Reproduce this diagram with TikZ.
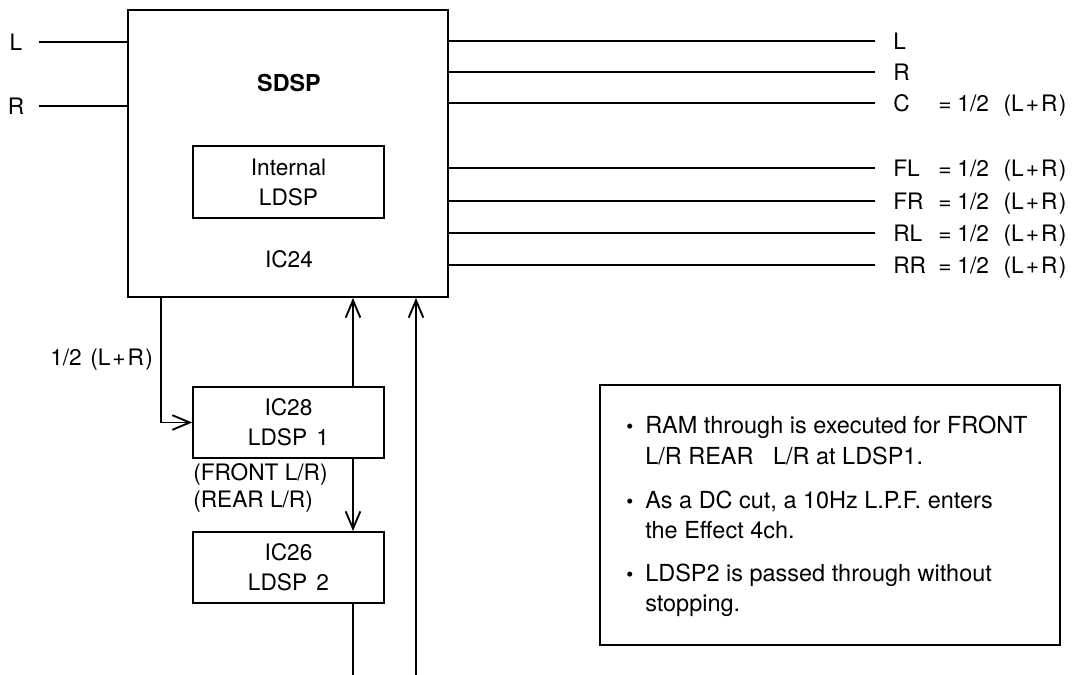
\documentclass[tikz,border=0pt]{standalone}
\usepackage{fontspec}
\setmainfont{TeX Gyre Heros}
\usetikzlibrary{arrows.meta}
\newcommand{\lpr}{(L\kern1.5pt+\kern1.5pt R\kern1pt)}
\begin{document}
\begin{tikzpicture}[x=0.75pt,y=-0.75pt,
  every node/.style={font=\fontsize{17}{22.5}\selectfont, inner sep=0pt},
  box/.style={draw, line width=1.4pt, inner sep=0pt, align=center},
  wire/.style={line width=1.4pt},
  arr/.style={wire, -{Straight Barb[length=13pt,width=11pt,line width=1.4pt]}},
  lbl/.style={anchor=base west},
  ntxt/.style={anchor=base west, font=\fontsize{17.6}{22.5}\selectfont},
  bul/.style={anchor=base west, font=\fontsize{15}{15}\selectfont}]
\useasboundingbox (0,0) rectangle (1079,675);

% main block
\node[box, minimum width=240pt, minimum height=215.25pt] (sdsp) at (288,153.5) {};
\node[anchor=base, font=\fontsize{17.5}{22.5}\selectfont\bfseries] (sdspt) at (289,91) {SDSP};
\node[anchor=base] (ic24) at (289,267) {IC24};
\node[box, minimum width=143.25pt, minimum height=54pt] (ildsp) at (288.5,182) {Internal\\LDSP};

% lower blocks
\node[box, minimum width=143.25pt, minimum height=53.25pt] (ic28) at (288.5,422.5) {IC28\\LDSP\hspace{7pt}1};
\node[box, minimum width=143.25pt, minimum height=53.25pt] (ic26) at (288.5,567.5) {IC26\\LDSP\hspace{7pt}2};

% inputs
\node[anchor=base] (inLt) at (16,50) {L};
\node[anchor=base] (inRt) at (16,114) {R};
\coordinate (inL) at (39,42);
\coordinate (inR) at (39,106);
\draw[wire] (inL) -- (inL -| sdsp.west);
\draw[wire] (inR) -- (inR -| sdsp.west);

% outputs
\foreach \n/\y/\t in {oL/41/L, oR/72/R, oC/103/C, oFL/168/FL, oFR/201/FR, oRL/233/RL, oRR/265/RR}{
  \coordinate (\n) at (875,\y);
  \draw[wire] (\n -| sdsp.east) -- (\n);
  \node[lbl] (\n-t) at (893,\y+8) {\t};
}
\foreach \n/\y in {oC/103, oFL/168, oFR/201, oRL/233, oRR/265}{
  \node[lbl] (\n-e) at (938,\y+8) {=\hspace{4.5pt}1/2\hspace{11pt}\lpr};
}

% feed to LDSP1
\coordinate (tap) at (161,0);
\draw[arr] (sdsp.south -| tap) |- (ic28.west);
\node[lbl] (half) at (50,365) {1/2\hspace{6.4pt}\lpr};

\node[lbl] (front) at (193,480) {(FRONT L/R)};
\node[lbl] (rear) at (193,507) {(REAR L/R)};

% vertical connectors
\coordinate (xa) at (353,0);
\coordinate (bot1) at (353,675);
\coordinate (bot2) at (416,675);
\draw[arr] (ic28.north -| xa) -- (sdsp.south -| xa);
\draw[arr] (ic28.south -| xa) -- (ic26.north -| xa);
\draw[wire] (ic26.south -| xa) -- (bot1);
\draw[arr] (bot2) -- (bot2 |- sdsp.south);

% note box
\node[box, minimum width=345pt, minimum height=195pt] (note) at (830,515) {};
\node[bul] (b1) at (626,433) {\textbullet};
\node[bul] (b2) at (626,508) {\textbullet};
\node[bul] (b3) at (626,581) {\textbullet};
\node[ntxt] (n1a) at (645,433) {RAM through is executed for FRONT};
\node[ntxt] (n1b) at (645,464) {L/R REAR\ \ \ L/R at LDSP1.};
\node[ntxt] (n2a) at (645,508) {As a DC cut, a 10Hz L.P.F. enters};
\node[ntxt] (n2b) at (645,538) {the Effect 4ch.};
\node[ntxt] (n3a) at (645,581) {LDSP2 is passed through without};
\node[ntxt] (n3b) at (645,611) {stopping.};
\end{tikzpicture}
\end{document}
